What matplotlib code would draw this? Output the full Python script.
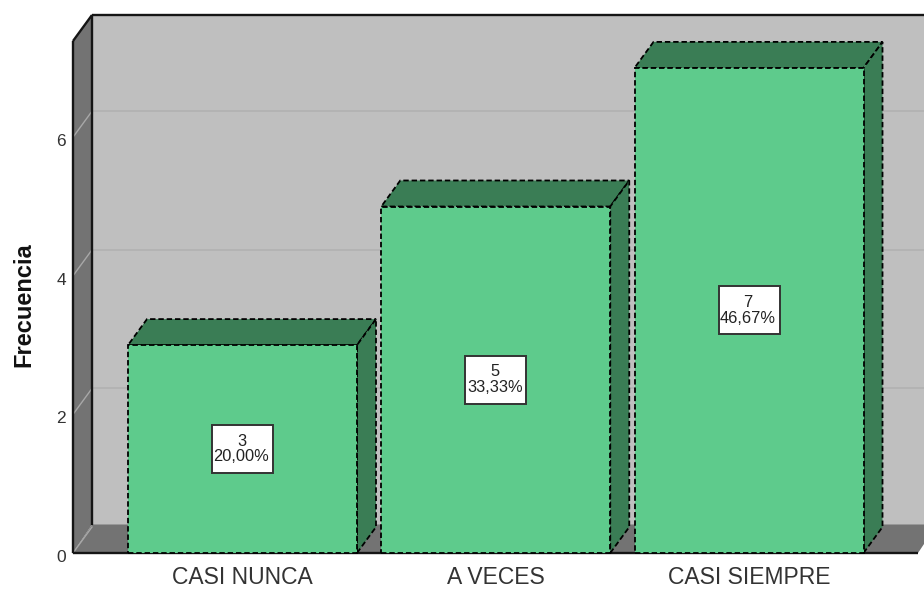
import matplotlib.pyplot as plt
from matplotlib.patches import Polygon, Rectangle
from matplotlib.transforms import ScaledTranslation

categories = ['CASI NUNCA', 'A VECES', 'CASI SIEMPRE']
counts = [3, 5, 7]
percents = ['20,00%', '33,33%', '46,67%']
y_ticks = [0, 2, 4, 6]

plt.rcParams['font.family'] = ['Liberation Sans', 'DejaVu Sans']

FIG_W, FIG_H = 924, 589
# плоскість фронту осей у пікселях
LEFT, RIGHT, BOTTOM, TOP = 73, 924, 553, 41
UNIT_X, UNIT_Y = 253.25, 69.3
DEPTH_X, DEPTH_Y = 19 / UNIT_X, 26 / UNIT_Y
FLOOR_Y = 28.5 / UNIT_Y
BAR_W = 229 / UNIT_X
BOX_W, BOX_H = 61 / UNIT_X, 48 / UNIT_Y

WALL = '#bfbfbf'
SIDE = '#737373'
GREEN = '#5ecb8c'
DARK_GREEN = '#3a7d55'
DASH = (0, (3, 1.6))

fig = plt.figure(figsize=(FIG_W / 100, FIG_H / 100), dpi=100)
ax = fig.add_axes([LEFT / FIG_W, 1 - BOTTOM / FIG_H,
                   (RIGHT - LEFT) / FIG_W, (BOTTOM - TOP) / FIG_H])
ax.set_xlim((LEFT - 242.5) / UNIT_X, (RIGHT - 242.5) / UNIT_X)
ax.set_ylim(0, (BOTTOM - TOP) / UNIT_Y)
ax.patch.set_visible(False)
for spine in ax.spines.values():
    spine.set_visible(False)

x0, x1 = ax.get_xlim()
y1 = ax.get_ylim()[1]
x_floor = x1 - 6 / UNIT_X


def add_poly(points, color, edge='none', lw=0.0, ls='-', z=1):
    ax.add_patch(Polygon(points, closed=True, facecolor=color, edgecolor=edge,
                         linewidth=lw, linestyle=ls, zorder=z, clip_on=False))


# задня стінка, бічна стінка, підлога
add_poly([(x0 + DEPTH_X, FLOOR_Y), (x1 + DEPTH_X, FLOOR_Y),
          (x1 + DEPTH_X, y1 + DEPTH_Y), (x0 + DEPTH_X, y1 + DEPTH_Y)], WALL)
add_poly([(x0, 0), (x0 + DEPTH_X, FLOOR_Y), (x0 + DEPTH_X, y1 + DEPTH_Y), (x0, y1)], SIDE)
add_poly([(x0, 0), (x_floor, 0), (x_floor + DEPTH_X, FLOOR_Y), (x0 + DEPTH_X, FLOOR_Y)], SIDE)

# сітка
for t in y_ticks:
    if t > 0:
        ax.plot([x0 + DEPTH_X, x1 + DEPTH_X], [t + DEPTH_Y, t + DEPTH_Y],
                color='#b1b1b1', lw=1.2, zorder=2, clip_on=False)
    ax.plot([x0, x0 + DEPTH_X], [t, t + DEPTH_Y], color='#a8a8a8', lw=1.0,
            zorder=2, clip_on=False)

# контури
line = dict(color='#151515', lw=1.7, zorder=3, clip_on=False, solid_capstyle='butt')
ax.plot([x0, x0], [0, y1], **line)
ax.plot([x0 + DEPTH_X, x0 + DEPTH_X], [FLOOR_Y, y1 + DEPTH_Y], **line)
ax.plot([x0, x0 + DEPTH_X], [y1, y1 + DEPTH_Y], **line)
ax.plot([x0 + DEPTH_X, x1 + DEPTH_X], [y1 + DEPTH_Y, y1 + DEPTH_Y], **line)
ax.plot([x0, x_floor], [0, 0], **line)

# стовпці
for i, (count, pct) in enumerate(zip(counts, percents)):
    left = i - BAR_W / 2
    right = i + BAR_W / 2
    add_poly([(left, count), (right, count), (right + DEPTH_X, count + DEPTH_Y),
              (left + DEPTH_X, count + DEPTH_Y)], DARK_GREEN, 'black', 1.3, DASH, 4)
    add_poly([(right, 0), (right + DEPTH_X, DEPTH_Y), (right + DEPTH_X, count + DEPTH_Y),
              (right, count)], DARK_GREEN, 'black', 1.3, DASH, 4)
    ax.bar(i, count, width=BAR_W, color=GREEN, edgecolor='black', linewidth=1.3,
           linestyle=DASH, zorder=5, clip_on=False)
    ax.add_patch(Rectangle((i - BOX_W / 2, count / 2 - BOX_H / 2), BOX_W, BOX_H,
                           facecolor='white', edgecolor='#333333', linewidth=1.4, zorder=6))
    ax.text(i - 1 / UNIT_X, count / 2, f'{count}\n{pct}', ha='center', va='center',
            fontsize=11.8, color='#222222', linespacing=1.05, zorder=7)

ax.set_xticks(range(len(categories)), categories)
ax.set_yticks(y_ticks)
ax.tick_params(axis='both', length=0, colors='#333333')
ax.tick_params(axis='x', labelsize=16.5, pad=9.5)
ax.tick_params(axis='y', labelsize=12.5, pad=5)
shift = ScaledTranslation(0, -3 / 100, fig.dpi_scale_trans)
for label in ax.get_yticklabels():
    label.set_transform(label.get_transform() + shift)
ax.set_ylabel('Frecuencia', fontsize=17, fontweight='bold', color='#111111')
ax.yaxis.set_label_coords(-38 / (RIGHT - LEFT), 0.486)

fig.savefig('out.png', dpi=100)
